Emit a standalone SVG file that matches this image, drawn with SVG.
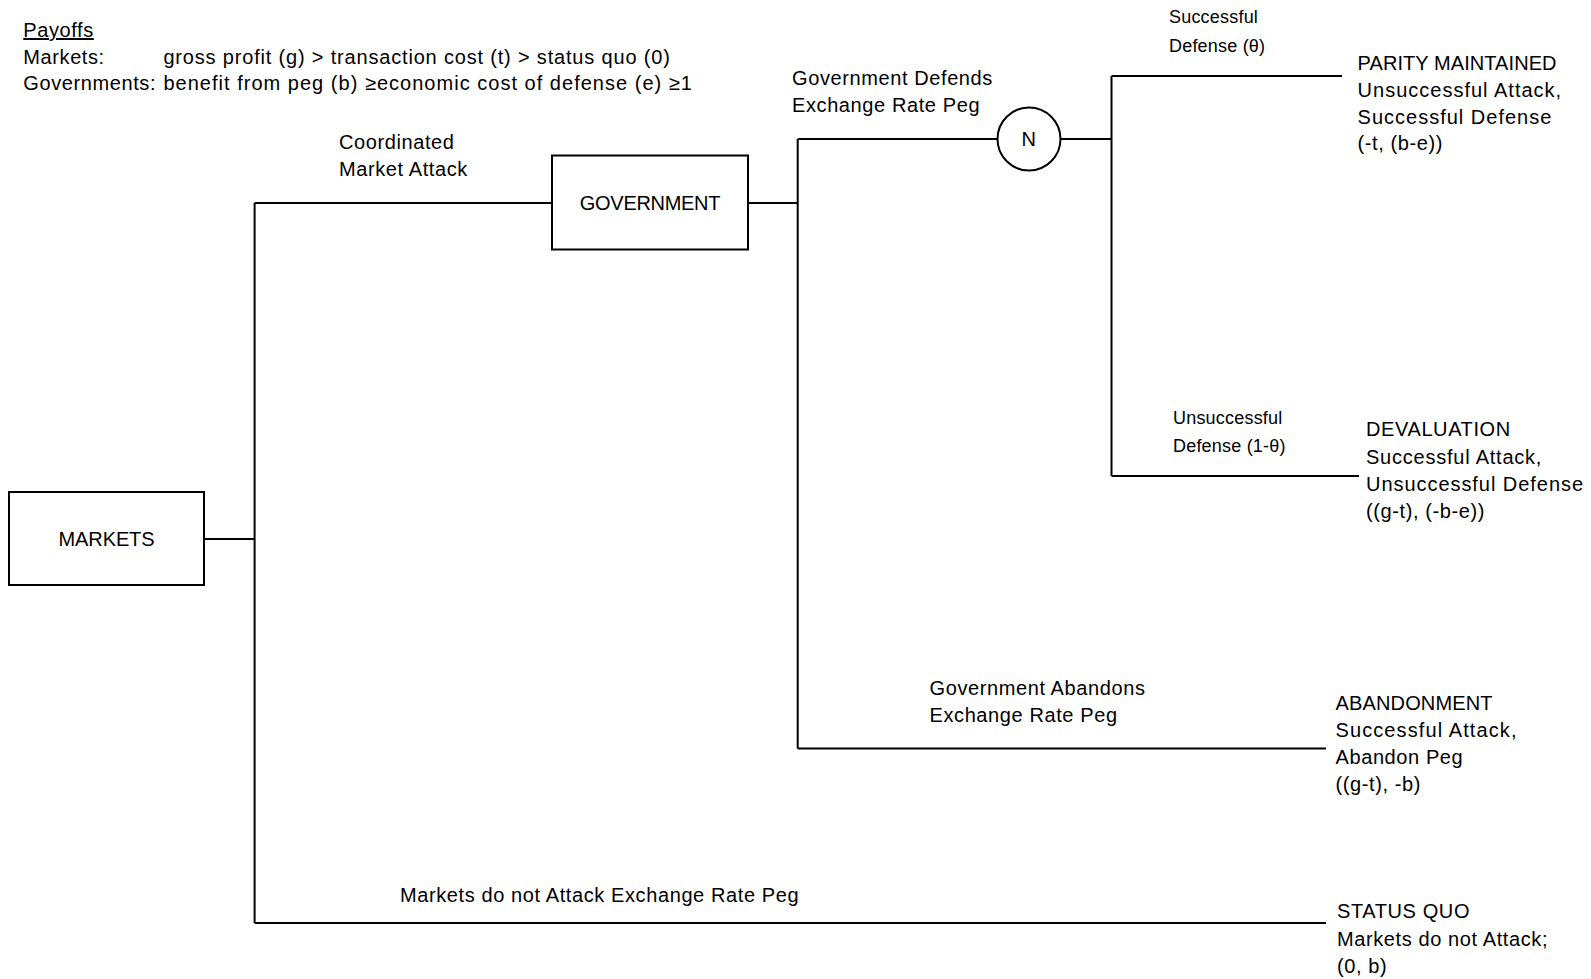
<svg xmlns="http://www.w3.org/2000/svg" width="1591" height="979" viewBox="0 0 1591 979">
<style>
text{font-family:"Liberation Sans",Arial,sans-serif;font-size:20px;fill:#000;letter-spacing:0.6px}
.s{font-size:18px;letter-spacing:0.2px}
.m{letter-spacing:0.9px}
.c{text-anchor:middle}
.box{fill:#fff;stroke:#000;stroke-width:2}
.ln{fill:none;stroke:#000;stroke-width:2}
</style>
<rect width="1591" height="979" fill="#fff"/>
<g id="legend">
<text x="23.3" y="37" text-decoration="underline">Payoffs</text>
<text x="23.3" y="64">Markets:</text>
<text x="163.4" y="64" style="letter-spacing:0.82px">gross profit (g) &gt; transaction cost (t) &gt; status quo (0)</text>
<text x="23.3" y="90">Governments:</text>
<text x="163.4" y="90" style="letter-spacing:1.02px">benefit from peg (b) ≥economic cost of defense (e) ≥1</text>
</g>
<g id="connectors" class="ln">
<path d="M204 539H254.6M254.6 203V923M254.6 203H552M254.6 923H1326"/>
<path d="M748 203H797.7M797.7 139V748.5M797.7 139H997.5M797.7 748.5H1326"/>
<path d="M1060.5 139H1111.5M1111.5 76V476M1111.5 76H1342M1111.5 476H1359"/>
</g>
<g id="markets">
<rect class="box" x="9" y="492" width="195" height="93"/>
<text class="c" x="106.5" y="546" style="letter-spacing:-0.1px">MARKETS</text>
</g>
<g id="government">
<rect class="box" x="552" y="155.5" width="196" height="94"/>
<text class="c" x="650" y="210" style="letter-spacing:-0.3px">GOVERNMENT</text>
</g>
<g id="nature">
<circle class="box" cx="1029" cy="139" r="31.5"/>
<text class="c" x="1029" y="146">N</text>
</g>
<g id="labels">
<text x="339" y="149">Coordinated</text>
<text x="339" y="175.5">Market Attack</text>
<text x="792" y="85">Government Defends</text>
<text x="792" y="111.5">Exchange Rate Peg</text>
<text class="s" x="1169" y="23">Successful</text>
<text class="s" x="1169" y="52">Defense (θ)</text>
<text class="s" x="1173" y="423.5">Unsuccessful</text>
<text class="s" x="1173" y="452">Defense (1-θ)</text>
<text x="929.5" y="695">Government Abandons</text>
<text x="929.5" y="722">Exchange Rate Peg</text>
<text x="400" y="902">Markets do not Attack Exchange Rate Peg</text>
</g>
<g id="parity">
<text x="1357.6" y="70" style="letter-spacing:0.07px">PARITY MAINTAINED</text>
<text class="m" x="1357.6" y="96.5" style="letter-spacing:1px">Unsuccessful Attack,</text>
<text class="m" x="1357.6" y="123.5" style="letter-spacing:1px">Successful Defense</text>
<text x="1357.6" y="150">(-t, (b-e))</text>
</g>
<g id="devaluation">
<text x="1366" y="436">DEVALUATION</text>
<text class="m" x="1366" y="463.5" style="letter-spacing:0.77px">Successful Attack,</text>
<text class="m" x="1366" y="491" style="letter-spacing:0.95px">Unsuccessful Defense</text>
<text x="1366" y="517.5">((g-t), (-b-e))</text>
</g>
<g id="abandonment">
<text x="1335.5" y="710" style="letter-spacing:0.15px">ABANDONMENT</text>
<text class="m" x="1335.5" y="736.5" style="letter-spacing:1.1px">Successful Attack,</text>
<text x="1335.5" y="764">Abandon Peg</text>
<text x="1335.5" y="791">((g-t), -b)</text>
</g>
<g id="statusquo">
<text x="1337" y="918">STATUS QUO</text>
<text x="1337" y="945.5">Markets do not Attack;</text>
<text x="1337" y="973">(0, b)</text>
</g>
</svg>
